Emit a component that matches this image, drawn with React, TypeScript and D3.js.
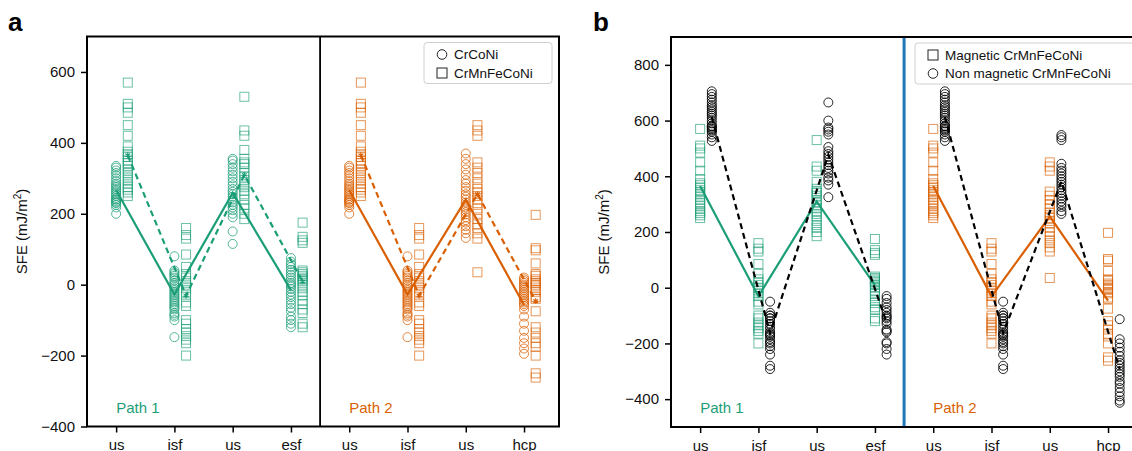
import * as d3 from "d3";
import { useEffect, useRef } from "react";

const W = 1132;
const H = 451;
const GREEN = "#1b9e77";
const ORANGE = "#d95f02";
const BLUE = "#1f77b4";
const FONT = "Liberation Sans, Arial, sans-serif";

const tickLabels = ["us", "isf", "us", "esf", "us", "isf", "us", "hcp"];

// CrCoNi (panel a, circles)
const crconiUs = [240, 232, 335, 330, 322, 315, 308, 300, 292, 285, 280, 275, 270, 265, 260, 255, 250, 245, 240, 235, 230, 225, 218, 200];
const crconiIsf = [80, 40, 35, 30, 25, 20, 12, 5, 0, -5, -10, -15, -20, -25, -30, -35, -40, -45, -50, -55, -60, -65, -70, -80, -85, -90, -100, -148];
const crconiUs2 = [355, 350, 340, 330, 320, 310, 300, 290, 280, 270, 262, 255, 248, 240, 232, 225, 218, 210, 200, 190, 150, 115];
const crconiEsf = [75, 65, 58, 50, 42, 35, 28, 20, 12, 5, 0, -5, -12, -20, -28, -35, -45, -55, -65, -75, -90, -100, -110, -120];
const crconiUs2Hcp = [370, 355, 340, 325, 310, 295, 285, 275, 265, 255, 248, 240, 232, 225, 218, 212, 205, 198, 190, 182, 175, 165, 155, 145, 132];
const crconiHcp = [20, 15, 10, 5, 0, -5, -10, -15, -20, -25, -30, -35, -40, -45, -50, -55, -60, -70, -90, -110, -130, -150, -165, -180, -195];

// magnetic CrMnFeCoNi (squares in a and b)
const magUs = [570, 510, 500, 485, 450, 420, 390, 375, 368, 360, 350, 343, 335, 325, 315, 305, 295, 285, 275, 268, 260, 250];
const magIsf = [160, 140, 130, 85, 50, 30, 20, 10, 0, -10, -20, -30, -50, -60, -100, -110, -125, -135, -145, -155, -165, -200];
const magUs2 = [530, 435, 420, 380, 355, 345, 340, 330, 315, 305, 295, 285, 275, 265, 255, 240, 225, 215, 200, 185];
const magEsf = [175, 135, 125, 118, 40, 35, 30, 25, 20, 15, 10, 0, -10, -20, -30, -45, -55, -70, -80, -110, -120];
const magUs2Hcp = [450, 435, 420, 345, 330, 315, 300, 285, 270, 260, 250, 240, 230, 215, 200, 185, 170, 160, 145, 130, 35];
const magHcp = [197, 103, 97, 60, 30, 25, 15, 10, 5, 0, -5, -15, -20, -35, -40, -75, -120, -135, -150, -165, -175, -200, -250, -262];

// non magnetic CrMnFeCoNi (circles in b)
const nmUs = [705, 695, 685, 675, 665, 655, 648, 640, 632, 625, 618, 610, 600, 590, 580, 580, 575, 570, 565, 560, 550, 540, 527];
const nmIsf = [-50, -90, -100, -100, -110, -110, -120, -130, -140, -150, -160, -165, -170, -175, -185, -195, -200, -210, -220, -240, -280, -292];
const nmUs2 = [665, 600, 575, 568, 560, 550, 505, 490, 480, 470, 460, 450, 440, 430, 420, 410, 395, 385, 370, 325];
const nmEsf = [-30, -40, -55, -70, -80, -90, -100, -105, -110, -120, -130, -150, -155, -160, -195, -200, -220, -240];
const nmUs2Hcp = [548, 540, 530, 445, 430, 420, 410, 400, 390, 380, 370, 360, 350, 340, 330, 320, 310, 300, 290, 275, 265];
const nmHcp = [-113, -185, -200, -215, -230, -245, -260, -270, -280, -290, -300, -310, -320, -335, -345, -360, -375, -390, -405, -413];

const pathColor = (i) => (i < 4 ? GREEN : ORANGE);

function drawMarkers(g, cols, x, y, offset, shape, color) {
    cols.forEach((vals, i) => {
        const c = color || pathColor(i);
        const cx = x(i + offset);
        vals.forEach(v => {
            if (shape === "circle") {
                g.append("circle")
                    .attr("cx", cx).attr("cy", y(v)).attr("r", 4.5)
                    .attr("fill", "none").attr("stroke", c)
                    .attr("stroke-opacity", color ? 0.85 : 0.75).attr("stroke-width", 1);
            } else {
                g.append("rect")
                    .attr("x", cx - 4.5).attr("y", y(v) - 4.5)
                    .attr("width", 9).attr("height", 9)
                    .attr("fill", "none").attr("stroke", c)
                    .attr("stroke-opacity", 0.65).attr("stroke-width", 1);
            }
        });
    });
}

function drawMeanLines(g, cols, x, y, offset, dashed, color, star) {
    [0, 4].forEach(start => {
        const pts = cols.slice(start, start + 4).map((vals, k) => [x(start + k + offset), y(d3.mean(vals))]);
        const c = color || pathColor(start);
        g.append("path")
            .attr("d", d3.line()(pts))
            .attr("fill", "none").attr("stroke", c)
            .attr("stroke-width", 2.2)
            .attr("stroke-dasharray", dashed ? "6,4" : null);
        if (star) {
            pts.forEach(p => {
                g.append("path")
                    .attr("d", d3.symbol().type(d3.symbolAsterisk).size(22)())
                    .attr("transform", `translate(${p[0]},${p[1]})`)
                    .attr("fill", "none").attr("stroke", c).attr("stroke-width", 1.2);
            });
        }
    });
}

function drawPanel(svg, cfg) {
    const { left, right, top, bottom, yDomain, yTicks } = cfg;
    const x = d3.scaleLinear().domain([-0.5, 7.6]).range([left, right]);
    const y = d3.scaleLinear().domain(yDomain).range([bottom, top]);
    const g = svg.append("g");

    const yAxis = d3.axisLeft(y).tickValues(yTicks).tickSize(6).tickPadding(6)
        .tickFormat(d => (d < 0 ? "\u2212" + Math.abs(d) : String(d)));
    const ya = g.append("g").attr("transform", `translate(${left},0)`).call(yAxis);
    ya.select(".domain").remove();
    ya.selectAll("line").attr("stroke-width", 1.5);
    ya.selectAll("text").attr("font-size", 15).attr("font-family", FONT).attr("fill", "#111");

    const xAxis = d3.axisBottom(x).tickValues(d3.range(8)).tickSize(6).tickPadding(7)
        .tickFormat(i => tickLabels[i]);
    const xa = g.append("g").attr("transform", `translate(0,${bottom})`).call(xAxis);
    xa.select(".domain").remove();
    xa.selectAll("line").attr("stroke-width", 1.5);
    xa.selectAll("text").attr("font-size", 15).attr("font-family", FONT).attr("fill", "#111");

    const plot = g.append("g");
    drawMarkers(plot, cfg.circles, x, y, cfg.circleOffset, "circle", cfg.circleColor);
    drawMarkers(plot, cfg.squares, x, y, cfg.squareOffset, "square", null);
    drawMeanLines(plot, cfg.solid, x, y, cfg.solidOffset, false, cfg.solidColor, false);
    drawMeanLines(plot, cfg.dashed, x, y, cfg.dashedOffset, true, cfg.dashedColor, cfg.star);

    // frame and divider
    g.append("line").attr("x1", x(3.5)).attr("x2", x(3.5)).attr("y1", top).attr("y2", bottom)
        .attr("stroke", cfg.dividerColor).attr("stroke-width", cfg.dividerWidth);
    g.append("rect").attr("x", left).attr("y", top).attr("width", right - left).attr("height", bottom - top)
        .attr("fill", "none").attr("stroke", "#000").attr("stroke-width", 2);

    g.append("text").attr("x", x(0)).attr("y", bottom - 14).text("Path 1")
        .attr("fill", GREEN).attr("font-size", 15).attr("font-family", FONT);
    g.append("text").attr("x", x(4)).attr("y", bottom - 14).text("Path 2")
        .attr("fill", ORANGE).attr("font-size", 15).attr("font-family", FONT);

    const lab = g.append("text")
        .attr("transform", `translate(${cfg.labelX},${(top + bottom) / 2}) rotate(-90)`)
        .attr("text-anchor", "middle").attr("font-size", 15).attr("font-family", FONT).attr("fill", "#111");
    lab.append("tspan").text("SFE (mJ/m");
    lab.append("tspan").text("2").attr("font-size", 10).attr("dy", -6);
    lab.append("tspan").text(")").attr("dy", 6);

    g.append("text").attr("x", cfg.letterX).attr("y", 31).text(cfg.letter)
        .attr("font-size", 26).attr("font-weight", "bold").attr("font-family", FONT);

    // legend
    const lg = g.append("g").attr("transform", `translate(${right - 7 - cfg.legendW},${top + 6})`);
    lg.append("rect").attr("width", cfg.legendW).attr("height", 41).attr("rx", 3)
        .attr("fill", "white").attr("fill-opacity", 0.85).attr("stroke", "#d0d0d0");
    cfg.legend.forEach((item, k) => {
        const cy = 12 + k * 18.5;
        if (item.shape === "circle") {
            lg.append("circle").attr("cx", 18).attr("cy", cy).attr("r", 4.8)
                .attr("fill", "none").attr("stroke", "#222").attr("stroke-width", 1);
        } else {
            lg.append("rect").attr("x", 13).attr("y", cy - 5).attr("width", 10).attr("height", 10)
                .attr("fill", "none").attr("stroke", "#222").attr("stroke-width", 1);
        }
        lg.append("text").attr("x", 30).attr("y", cy).attr("dy", "0.35em").text(item.label)
            .attr("font-size", 13.5).attr("font-family", FONT).attr("fill", "#111");
    });
}

const App = () => {
    const chartRef = useRef(null);

    useEffect(() => {
        const svg = d3.select(chartRef.current);
        svg.selectAll("*").remove();

        const aCircles = [crconiUs, crconiIsf, crconiUs2, crconiEsf, crconiUs, crconiIsf, crconiUs2Hcp, crconiHcp];
        const mag = [magUs, magIsf, magUs2, magEsf, magUs, magIsf, magUs2Hcp, magHcp];
        const nm = [nmUs, nmIsf, nmUs2, nmEsf, nmUs, nmIsf, nmUs2Hcp, nmHcp];

        drawPanel(svg, {
            left: 87, right: 559, top: 36.5, bottom: 426.5,
            yDomain: [-400, 700], yTicks: [-400, -200, 0, 200, 400, 600],
            circles: aCircles, circleOffset: 0, circleColor: null,
            squares: mag, squareOffset: 0.2,
            solid: aCircles, solidOffset: 0, solidColor: null,
            dashed: mag, dashedOffset: 0.2, dashedColor: null, star: true,
            dividerColor: "#000", dividerWidth: 1.8,
            labelX: 27, letter: "a", letterX: 8, legendW: 128,
            legend: [{ shape: "circle", label: "CrCoNi" }, { shape: "square", label: "CrMnFeCoNi" }],
        });

        drawPanel(svg, {
            left: 671, right: 1143, top: 37, bottom: 427,
            yDomain: [-500, 900], yTicks: [-400, -200, 0, 200, 400, 600, 800],
            circles: nm, circleOffset: 0.2, circleColor: "#000",
            squares: mag, squareOffset: 0,
            solid: mag, solidOffset: 0, solidColor: null,
            dashed: nm, dashedOffset: 0.2, dashedColor: "#000", star: false,
            dividerColor: BLUE, dividerWidth: 3,
            labelX: 609, letter: "b", letterX: 593, legendW: 221,
            legend: [{ shape: "square", label: "Magnetic CrMnFeCoNi" }, { shape: "circle", label: "Non magnetic CrMnFeCoNi" }],
        });
    }, []);

    return (
        <svg ref={chartRef} width={W} height={H}
            style={{ position: "absolute", left: 0, top: 0, background: "#fff" }} />
    );
};

export default App;
